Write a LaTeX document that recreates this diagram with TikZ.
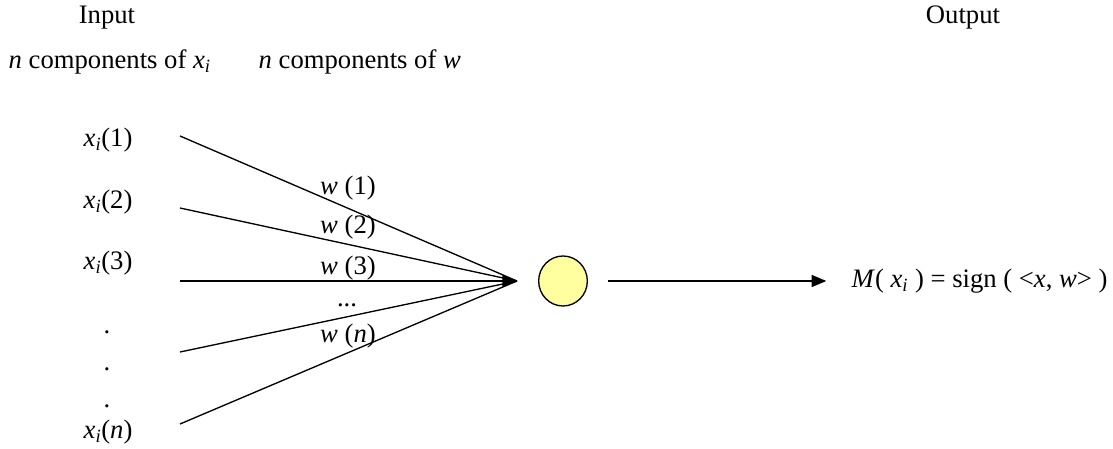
\documentclass[tikz,border=0pt]{standalone}
\usepackage{fontspec}
\setmainfont{Liberation Serif}
\usetikzlibrary{arrows.meta, shapes.geometric}

\definecolor{neuronfill}{RGB}{255,255,160}
\newcommand{\xcomp}[1]{\textit{x}\textsubscript{\textit{i}}(#1)}
\newcommand{\wcomp}[1]{\textit{w} (#1)}

\tikzset{
    lbl/.style={inner sep=0pt, font=\fontsize{20}{24}\selectfont},
    neuron/.style={draw, ellipse, fill=neuronfill, minimum width=36.5pt, minimum height=37.5pt}
}

\begin{document}
\begin{tikzpicture}[x=0.75pt, y=-0.75pt, >={Triangle[length=11pt, width=9pt]}, line width=1pt]
    \useasboundingbox (0,0) rectangle (1113,449);
    % Headings
    \node[lbl] (input) at (107,18) {Input};
    \node[lbl] (output) at (963,18) {Output};
    \node[lbl, anchor=west] (compx) at (8,62) {\textit{n} components of \textit{x}\textsubscript{\textit{i}}};
    \node[lbl, anchor=west] (compw) at (258,62) {\textit{n} components of \textit{w}};
    % Inputs
    \node[lbl, anchor=west] (x1) at (83,140) {\xcomp{1}};
    \node[lbl, anchor=west] (x2) at (83,202) {\xcomp{2}};
    \node[lbl, anchor=west] (x3) at (83,263) {\xcomp{3}};
    \node[lbl, anchor=west] (xn) at (83,432) {\xcomp{\textit{n}}};
    \foreach \i/\y in {1/332, 2/369, 3/406} \node[lbl] (dot\i) at (107,\y) {.};
    % Fan of weights
    \coordinate (in1) at (180,136);
    \coordinate (in2) at (180,208);
    \coordinate (in3) at (180,281);
    \coordinate (in4) at (180,352);
    \coordinate (in5) at (180,424);
    \coordinate (sum) at (517,281);
    \foreach \i in {1,2,4,5} \draw (in\i) -- (sum);
    \draw[->] (in3) -- (sum);
    \node[lbl] (w1) at (348,188) {\wcomp{1}};
    \node[lbl] (w2) at (348,227) {\wcomp{2}};
    \node[lbl] (w3) at (348,268) {\wcomp{3}};
    \node[lbl] (wdots) at (347,305) {...};
    \node[lbl] (wn) at (348,336) {\wcomp{\textit{n}}};
    % Neuron and output
    \node[neuron] (cell) at (563,281) {};
    \node[lbl, anchor=west] (result) at (851,281) {\textit{M}( \textit{x}\textsubscript{\textit{i}} ) = sign ( <\textit{x}, \textit{w}> )};
    \draw[->, shorten <=15pt, shorten >=18.5pt] (cell.east) -- (result.west);
\end{tikzpicture}
\end{document}
